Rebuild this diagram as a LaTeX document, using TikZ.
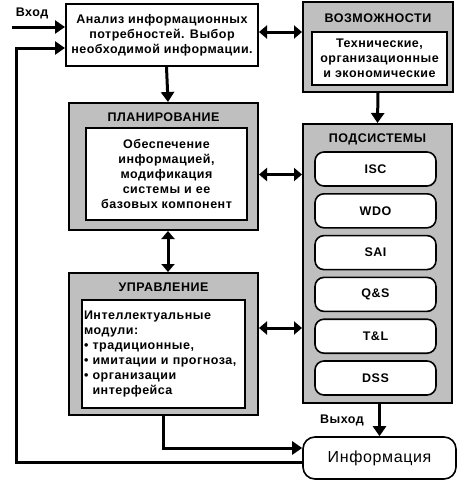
\documentclass[tikz,border=0pt]{standalone}
\usepackage{fontspec}
\setmainfont[LetterSpace=4]{Liberation Sans}
\usetikzlibrary{positioning,calc,arrows.meta}

\begin{document}
\begin{tikzpicture}[
        x=1pt, y=-1pt,
        every node/.style={font=\bfseries\fontsize{12.5}{15}\selectfont},
        panel/.style={rectangle, draw=black, line width=2pt, fill=black!25},
        card/.style={rectangle, draw=black, line width=1.6pt, fill=white, align=center, inner sep=2pt},
        subsys/.style={rectangle, draw=black, line width=1.6pt, fill=white, rounded corners=9pt, minimum width=121pt, minimum height=34pt},
        flow/.style={line width=3pt, -{Triangle[length=10pt, width=13pt]}},
        both/.style={line width=3pt, {Triangle[length=8pt, width=13pt]}-{Triangle[length=8pt, width=13pt]}}
        ]
        \useasboundingbox (0,0) rectangle (457,480);

        % top block
        \node[card, line width=2pt, minimum width=192pt, minimum height=62pt] (analysis) at (162, 35)
            {Анализ информационных\\потребностей. Выбор\\необходимой информации.};

        % possibilities
        \node[panel, minimum width=150pt, minimum height=90pt] (vozm) at (378, 47) {};
        \node (vozmtitle) at (378, 18) {ВОЗМОЖНОСТИ};
        \node[card, minimum width=135pt, minimum height=53pt] (vozmtext) at (379.5, 58.5)
            {Технические,\\организационные\\и экономические};

        % planning
        \node[panel, minimum width=189pt, minimum height=127pt] (plan) at (163.5, 166.5) {};
        \node (plantitle) at (163.5, 117) {ПЛАНИРОВАНИЕ};
        \node[card, minimum width=161pt, minimum height=92pt] (plantext) at (166.5, 174)
            {Обеспечение\\информацией,\\модификация\\системы и ее\\базовых компонент};

        % control
        \node[panel, minimum width=189pt, minimum height=142pt] (upr) at (163.5, 344) {};
        \node (uprtitle) at (163.5, 287) {УПРАВЛЕНИЕ};
        \node[card, align=left, text width=159pt, minimum height=108pt] (uprtext) at (163.5, 354)
            {Интеллектуальные\\модули:\\• традиционные,\\• имитации и прогноза,\\• организации\\\hphantom{• }интерфейса};

        % subsystems
        \node[panel, minimum width=149pt, minimum height=279pt] (podsys) at (377.5, 263.5) {};
        \node (podsystitle) at (377.5, 139) {ПОДСИСТЕМЫ};
        \foreach \lbl/\nm [count=\i] in {ISC/isc, WDO/wdo, SAI/sai, Q\&S/qs, T\&L/tl, DSS/dss}
            \node[subsys] (\nm) at (375.5, {169+41.8*(\i-1)}) {\lbl};

        % result
        \node[subsys, minimum width=153pt, minimum height=42pt, rounded corners=12pt,
              font=\fontsize{16}{19}\selectfont] (info) at (379.5, 458) {Информация};

        \coordinate (in) at (12, 27);
        \coordinate (fb) at (16, 48);
        \node (inlabel) at (32, 13) {Вход};
        \node (outlabel) at (342, 420) {Выход};

        \draw[flow] (in) -- (in -| analysis.west);
        \draw[flow] ([yshift=-4pt]info.west) -| (fb) -- (fb -| analysis.west);
        \draw[both] ([yshift=3pt]analysis.east) -- ([yshift=3pt]analysis.east -| vozm.west);
        \draw[flow] ([xshift=4.5pt]analysis.south) -- ([xshift=4.5pt]plan.north);
        \draw[flow] (vozm.south) -- (podsys.north);
        \draw[both] ([yshift=-8pt]plan.east) -- ([yshift=-8pt]plan.east -| podsys.west);
        \draw[both] ([xshift=4.5pt]plan.south) -- ([xshift=4.5pt]upr.north);
        \draw[both] ([yshift=16pt]upr.east) -- ([yshift=16pt]upr.east -| podsys.west);
        \draw[flow] (upr.south) |- ([yshift=10pt]info.west);
        \draw[flow] (podsys.south -| info.north) -- (info.north);

    \end{tikzpicture}
\end{document}
